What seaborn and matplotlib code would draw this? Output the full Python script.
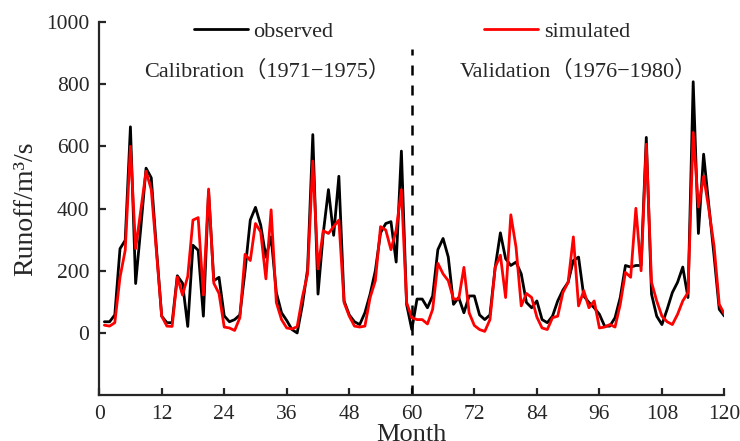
import numpy as np
import pandas as pd
import matplotlib
matplotlib.use("Agg")
import matplotlib.pyplot as plt
import seaborn as sns
from matplotlib.lines import Line2D
from matplotlib.legend import Legend

months = list(range(1, 121))
observed = [36, 36, 58, 271, 298, 663, 159, 340, 530, 499, 270, 54,
            33, 33, 184, 160, 21, 282, 266, 54, 455, 168, 179, 55,
            36, 43, 58, 200, 363, 404, 347, 244, 309, 130, 65, 40,
            11, 0, 90, 205, 638, 125, 320, 461, 314, 504, 103, 58,
            36, 27, 65, 125, 200, 322, 352, 358, 228, 585, 92, 11,
            109, 109, 81, 119, 268, 304, 244, 92, 114, 65, 119, 119,
            58, 43, 58, 211, 322, 239, 217, 228, 190, 98, 81, 103,
            43, 33, 54, 103, 138, 163, 233, 244, 119, 98, 81, 60,
            22, 22, 49, 114, 217, 212, 217, 217, 629, 125, 54, 27,
            76, 130, 163, 212, 114, 808, 320, 575, 410, 249, 76, 54]
simulated = [25, 22, 33, 179, 266, 600, 271, 396, 520, 461, 260, 54,
             22, 21, 180, 122, 182, 363, 371, 122, 463, 160, 127, 19,
             16, 8, 49, 253, 233, 352, 325, 174, 396, 98, 43, 16,
             13, 20, 115, 190, 553, 206, 329, 320, 342, 363, 98, 54,
             22, 19, 22, 114, 168, 342, 331, 268, 331, 461, 98, 49,
             43, 43, 29, 76, 224, 190, 168, 109, 109, 211, 65, 24,
             11, 5, 43, 211, 250, 114, 380, 276, 87, 127, 114, 51,
             16, 11, 49, 54, 130, 163, 309, 87, 136, 81, 103, 16,
             19, 27, 19, 92, 195, 179, 401, 200, 607, 163, 103, 54,
             36, 27, 60, 103, 130, 645, 405, 504, 398, 280, 92, 60]
x_ticks = list(range(0, 121, 12))
y_ticks = [0, 200, 400, 600, 800, 1000]
split_month = 60

sns.set_style("ticks")
plt.rcParams['font.family'] = ['Liberation Serif', 'Noto Sans CJK SC', 'DejaVu Sans']

df = pd.DataFrame({
    "Month": months * 2,
    "Runoff": observed + simulated,
    "Series": ["observed"] * 120 + ["simulated"] * 120,
})

fig = plt.figure(figsize=(7.4, 4.41), dpi=100)
ax = fig.add_axes([0.134, 0.104, 0.845, 0.846])

sns.lineplot(data=df, x="Month", y="Runoff", hue="Series",
             palette={"observed": "black", "simulated": "#ff0000"},
             linewidth=2.0, ax=ax, legend=False)

ax.plot([split_month, split_month], [-200, 912], color="black",
        linestyle=(0, (4, 4)), linewidth=1.8)

ax.set_xlim(0, 120)
ax.set_ylim(-200, 1000)
ax.set_xticks(x_ticks)
ax.set_yticks(y_ticks)
ax.tick_params(direction="in", length=5, width=1.6, labelsize=15.5, pad=7)
for s in ["left", "bottom"]:
    ax.spines[s].set_linewidth(1.6)
sns.despine(ax=ax)

ax.set_xlabel("Month", fontsize=19, labelpad=0)
ax.set_ylabel("Runoff/m³/s", fontsize=20, labelpad=6)

h1 = Line2D([], [], color="black", linewidth=2.0)
h2 = Line2D([], [], color="#ff0000", linewidth=2.0)
ax.legend([h1], ["observed"], loc="center", bbox_to_anchor=(0.263, 0.975),
          frameon=False, fontsize=16, handlelength=2.45, handletextpad=0.25,
          borderpad=0, borderaxespad=0)
leg2 = Legend(ax, [h2], ["simulated"], loc="center", bbox_to_anchor=(0.732, 0.975),
              frameon=False, fontsize=16, handlelength=2.45, handletextpad=0.25,
              borderpad=0, borderaxespad=0)
ax.add_artist(leg2)

ax.text(32.3, 842, "Calibration（1971−1975）", ha="center", va="center", fontsize=16)
ax.text(92.0, 842, "Validation（1976−1980）", ha="center", va="center", fontsize=16)

fig.savefig("out.png", dpi=100)
